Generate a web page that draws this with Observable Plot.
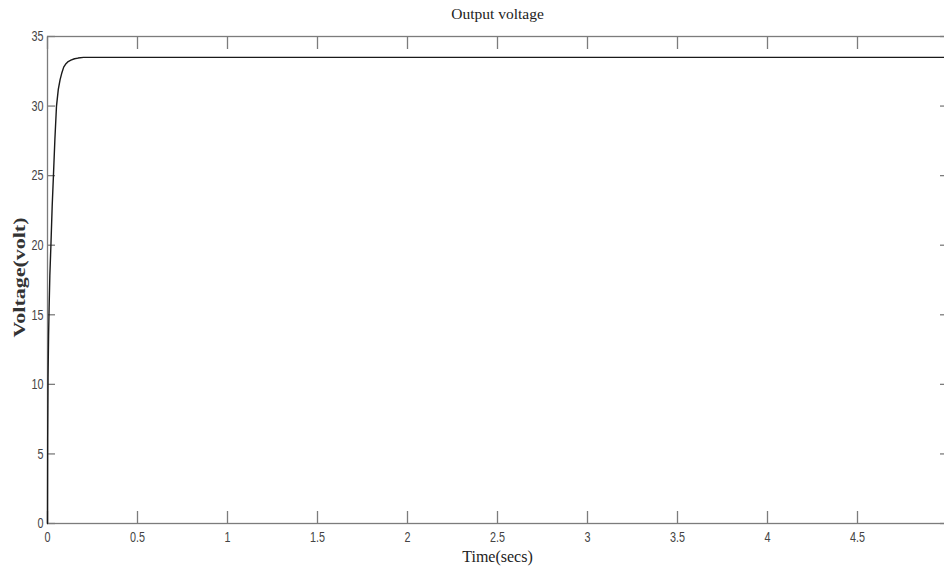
<!DOCTYPE html>
<html>
<head>
<meta charset="utf-8">
<script src="https://cdn.jsdelivr.net/npm/d3@7"></script>
<script src="https://cdn.jsdelivr.net/npm/@observablehq/plot@0.6"></script>
<style>
  html, body { margin: 0; padding: 0; background: #fff; overflow: hidden; }
  #chart svg { display: block; }
</style>
</head>
<body>
<div id="chart"></div>
<script>
// ---- chart text ----
const title = "Output voltage";
const xLabel = "Time(secs)";
const yLabel = "Voltage(volt)";

// ---- tick labels ----
const xTicks = [0, 0.5, 1, 1.5, 2, 2.5, 3, 3.5, 4, 4.5];
const yTicks = [0, 5, 10, 15, 20, 25, 30, 35];

// ---- series ----
const time    = [0, 0.001, 0.003, 0.006, 0.009, 0.013, 0.019, 0.026, 0.033, 0.041, 0.05, 0.06, 0.07, 0.08, 0.09, 0.1, 0.115, 0.13, 0.15, 0.17, 0.2, 0.3, 1, 2, 3, 4, 5];
const voltage = [0, 6, 10.5, 13.5, 15.5, 17.8, 20, 22.8, 25, 27.6, 30, 31.2, 31.9, 32.4, 32.8, 33.0, 33.2, 33.3, 33.4, 33.45, 33.5, 33.5, 33.5, 33.5, 33.5, 33.5, 33.5];

const data = time.map((t, i) => ({t, v: voltage[i]}));

const axisGray = "#7c7c7c";
const textGray = "#444";
const sans = "'Liberation Sans', Arial, sans-serif";
const serif = "'Liberation Serif', 'Times New Roman', serif";
const fmt = d => `${d}`;

const chart = Plot.plot({
  width: 944,
  height: 570,
  marginLeft: 47,
  marginRight: -3,
  marginTop: 36,
  marginBottom: 47,
  x: {domain: [0, 5]},
  y: {domain: [0, 35]},
  style: {background: "#fff", fontFamily: sans, fontSize: "15px", color: textGray},
  marks: [
    Plot.frame({stroke: axisGray, strokeWidth: 1.3}),
    Plot.axisX(xTicks, {anchor: "bottom", tickSize: -12, tickPadding: 20, tickFormat: fmt, label: null, stroke: axisGray, strokeWidth: 1.3, fill: textGray}),
    Plot.axisX(xTicks, {anchor: "top", tickSize: -12, label: null, stroke: axisGray, strokeWidth: 1.3, fill: "none"}),
    Plot.axisY(yTicks, {anchor: "left", tickSize: -8, tickPadding: 12, tickFormat: fmt, label: null, stroke: axisGray, strokeWidth: 1.3, fill: textGray}),
    Plot.axisY(yTicks, {anchor: "right", tickSize: -8, label: null, stroke: axisGray, strokeWidth: 1.3, fill: "none"}),
    Plot.line(data, {x: "t", y: "v", stroke: "#1a1a1a", strokeWidth: 1.4}),
    Plot.text([title], {frameAnchor: "top", textAnchor: "middle", dy: -22.5, lineAnchor: "middle", fontFamily: serif, fontSize: 15.5, fill: "#222"}),
    Plot.text([xLabel], {frameAnchor: "bottom", textAnchor: "middle", dy: 33, lineAnchor: "middle", fontFamily: serif, fontSize: 16, fill: "#222"}),
    Plot.text([yLabel], {frameAnchor: "left", textAnchor: "middle", dx: -28, dy: -2.5, rotate: -90, lineAnchor: "middle", fontFamily: serif, fontWeight: "bold", fontSize: 16, fill: "#333"})
  ]
});
document.getElementById("chart").appendChild(chart);

// narrow the tick labels to match the condensed face of the original
d3.select(chart)
  .selectAll('g[aria-label="x-axis tick label"] text, g[aria-label="y-axis tick label"] text')
  .each(function () {
    const w = this.getComputedTextLength();
    this.setAttribute("textLength", (w * 0.72).toFixed(2));
    this.setAttribute("lengthAdjust", "spacingAndGlyphs");
  });
// stretch the y label along its length like the original
d3.select(chart)
  .selectAll("text")
  .filter(function () { return this.textContent === yLabel; })
  .attr("textLength", 120)
  .attr("lengthAdjust", "spacingAndGlyphs");
</script>
</body>
</html>
